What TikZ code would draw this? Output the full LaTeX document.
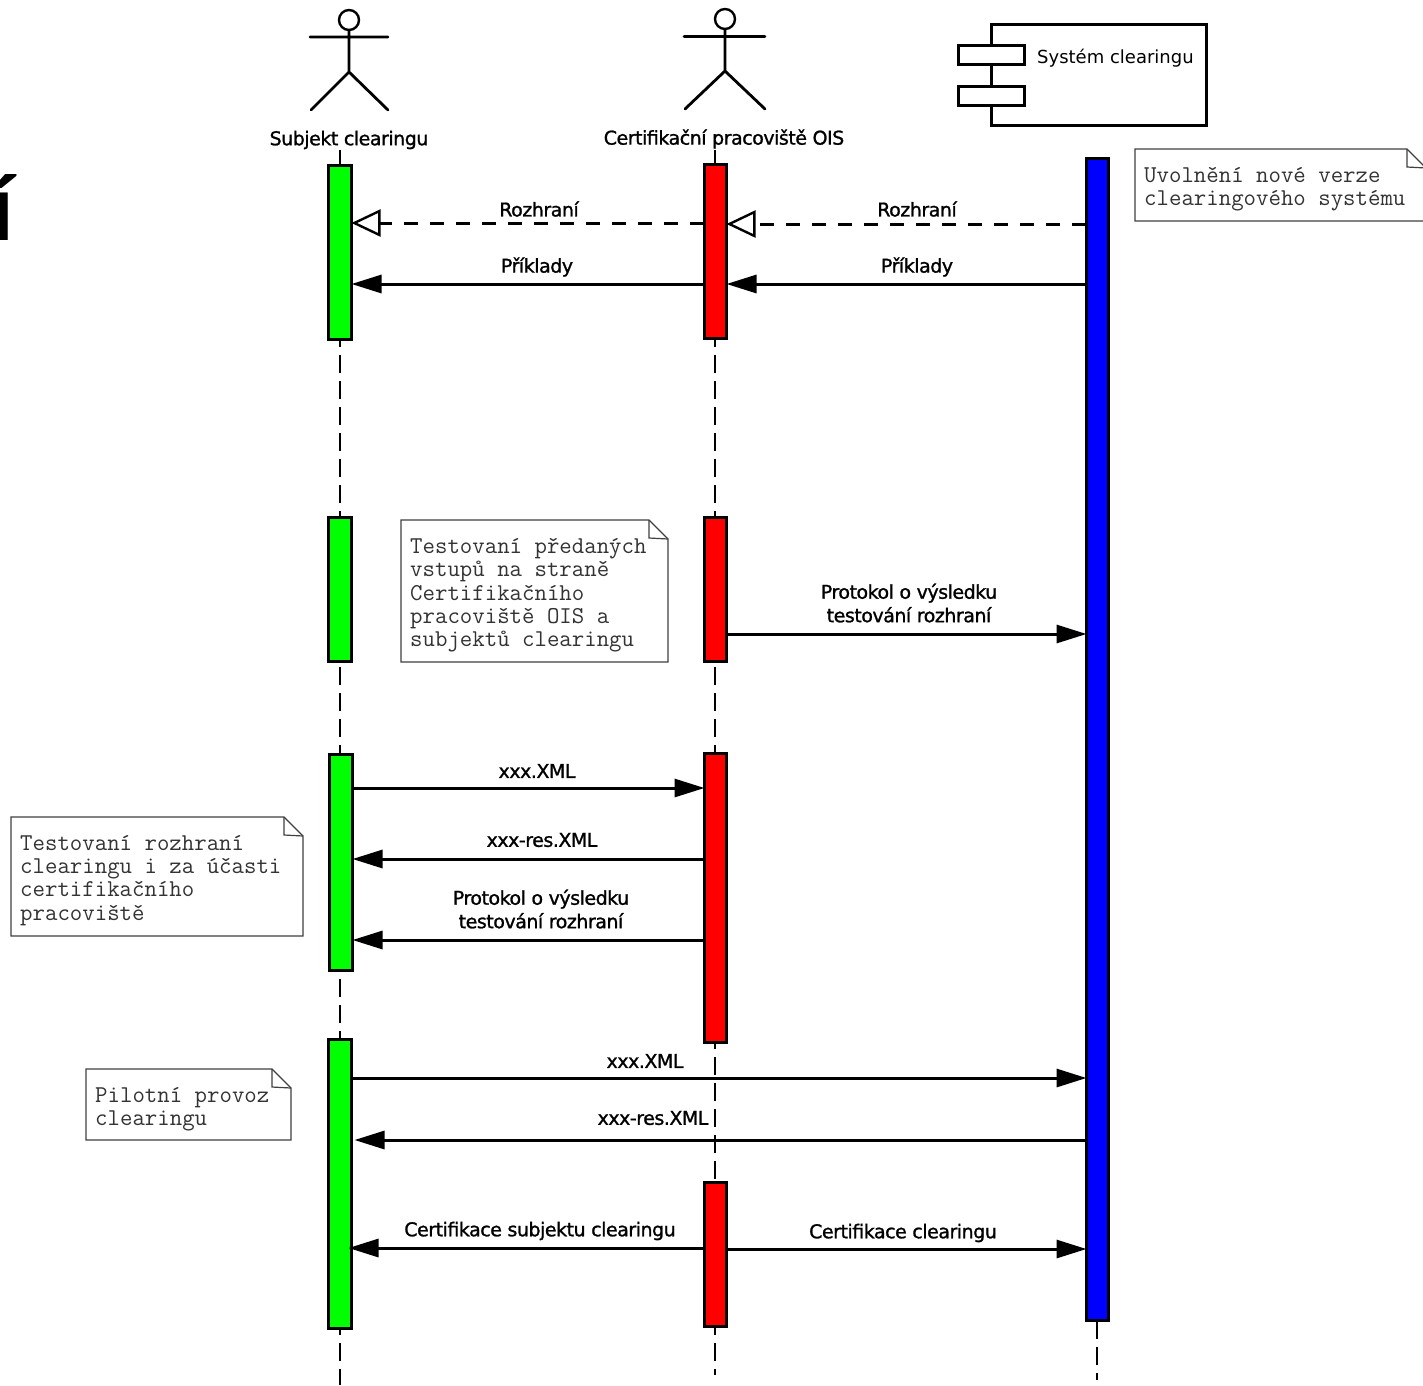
\documentclass[tikz,border=0pt]{standalone}
\usepackage{fontspec}
\usetikzlibrary{arrows.meta,calc}
\setmainfont{DejaVu Sans}
\newfontfamily\lblfont[FakeBold=1.2,LetterSpace=-2.5]{DejaVu Sans}
\newfontfamily\bigfont{Liberation Sans}[BoldFont={Liberation Sans Bold}]
\tikzset{
  x=1pt,y=-1pt,
  bar/.style={draw=black,line width=3pt,inner sep=0pt},
  life/.style={line width=2pt,dash pattern=on 18pt off 8pt},
  msg/.style={line width=3pt,-{Triangle[length=30pt,width=18pt,fill=black]}},
  ret/.style={line width=3pt,dash pattern=on 14pt off 12pt,-{Triangle[open,length=29pt,width=27pt,fill=white,line width=2.4pt,sep=0pt]}},
  lbl/.style={font=\fontsize{19}{23.5}\selectfont\lblfont,align=center,inner sep=0pt,text=black},
  notetxt/.style={font=\fontsize{24.15}{23.3}\selectfont\ttfamily,align=left,anchor=north west,inner sep=0pt,text=black!80},
  notebox/.style={draw=black!75,line width=1.2pt,fill=white},
  fig/.style={line width=2.8pt,line cap=round},
  comp/.style={draw=black,line width=3pt,fill=white,rectangle,inner sep=0pt},
}
\newcommand{\mkbar}[6]{\node[bar,fill=#2,minimum width=#4pt-#3pt-2pt,minimum height=#6pt-#5pt-1pt,outer sep=0.5pt] (#1) at ({(#3+#4)/2},{(#5+#6)/2}) {};}
\newcommand{\mknote}[6]{%
  \draw[notebox] (#2,#4) -- (#3-19,#4) -- (#3,#4+19) -- (#3,#5) -- (#2,#5) -- cycle;
  \draw[notebox,fill=none] (#3-19,#4) -- (#3-19,#4+18) -- (#3,#4+19);
  \node[notetxt] (#1) at (#2+9,#4+18) {#6};}
\begin{document}
\begin{tikzpicture}
\useasboundingbox (0,0) rectangle (1423,1385);
% lifelines
\coordinate (l1top) at (340,147);
\coordinate (l1bot) at (340,1385);
\coordinate (l2top) at (715,147);
\coordinate (l2bot) at (715,1375);
\coordinate (l3bot) at (1097,1380);
\draw[life] (l1top) -- (l1bot);
\draw[life] (l2top) -- (l2bot);
% big cut-off letter
\begin{scope}
\clip (0,0) rectangle (1423,1385);
\node[inner sep=0pt,anchor=base east,font=\fontsize{90}{90}\selectfont\bigfont\bfseries] (cut) at (15,240) {í};
\end{scope}
% bars
\mkbar{g1}{green}{327}{352}{165}{340}
\mkbar{r1}{red}{703}{727}{164}{339}
\mkbar{b1}{blue}{1085}{1109}{158}{1321}
\mkbar{g2}{green}{327}{352}{517}{662}
\mkbar{r2}{red}{703}{727}{517}{662}
\mkbar{g3}{green}{328}{353}{754}{971}
\mkbar{r3}{red}{703}{727}{753}{1043}
\mkbar{g4}{green}{327}{352}{1039}{1329}
\mkbar{r4}{red}{703}{727}{1182}{1327}
\draw[life] (b1.south) -- (l3bot);
% actors
\node[circle,draw=black,line width=2.4pt,minimum size=20pt,inner sep=0pt] (h1) at (349,20) {};
\node[circle,draw=black,line width=2.4pt,minimum size=20pt,inner sep=0pt] (h2) at (725,19) {};
\draw[fig] (h1.south) -- (349,72) (310,37) -- (388,37) (311,110) -- (349,72) -- (388,110);
\draw[fig] (h2.south) -- (725,71) (684,36.5) -- (765,36.5) (685,109) -- (725,71) -- (765,109);
\node[lbl,fill=white,inner ysep=1pt] (a1) at (349,140) {Subjekt clearingu};
\node[lbl,fill=white,inner ysep=1pt] (a2) at (724,139) {Certifikační pracoviště OIS};
% component
\node[comp,minimum width=215pt,minimum height=101pt] (c0) at (1099,75) {};
\node[comp,minimum width=66pt,minimum height=19pt] (c1) at (991.5,54.5) {};
\node[comp,minimum width=66pt,minimum height=19pt] (c2) at (991.5,96) {};
\node[inner sep=0pt,font=\fontsize{18}{22}\selectfont,anchor=west] (c3) at (1037,58) {Systém clearingu};
% notes
\mknote{n1}{1135}{1426}{149}{221}{Uvolnění nové verze\\clearingového systému}
\mknote{n2}{401}{668}{520}{662}{Testovaní předaných\\vstupů na straně\\Certifikačního\\pracoviště OIS a\\subjektů clearingu}
\mknote{n3}{11}{303}{817}{936}{Testovaní rozhraní\\clearingu i za účasti\\certifikačního\\pracoviště}
\mknote{n4}{86}{291}{1069}{1140}{Pilotní provoz\\clearingu}
% messages
\coordinate (y1) at (0,223);
\coordinate (y1b) at (0,224);
\coordinate (y2) at (0,284);
\coordinate (y3) at (0,634);
\coordinate (y4) at (0,788);
\coordinate (y5) at (0,859);
\coordinate (y6) at (0,940);
\coordinate (y7) at (0,1078);
\coordinate (y8) at (0,1140);
\coordinate (y9) at (0,1248);
\coordinate (y10) at (0,1249);
\draw[ret] (r1.west |- y1) -- (g1.east |- y1);
\draw[ret] (b1.west |- y1b) -- (r1.east |- y1b);
\draw[msg] (r1.west |- y2) -- (g1.east |- y2);
\draw[msg] (b1.west |- y2) -- (r1.east |- y2);
\draw[msg] (r2.east |- y3) -- ([xshift=1pt]b1.west |- y3);
\draw[msg] (g3.east |- y4) -- ([xshift=1pt]r3.west |- y4);
\draw[msg] (r3.west |- y5) -- (g3.east |- y5);
\draw[msg] (r3.west |- y6) -- (g3.east |- y6);
\draw[msg] (g4.east |- y7) -- ([xshift=1pt]b1.west |- y7);
\draw[msg] (b1.west |- y8) -- ([xshift=3pt]g4.east |- y8);
\draw[msg] (r4.west |- y9) -- ([xshift=-3pt]g4.east |- y9);
\draw[msg] (r4.east |- y10) -- ([xshift=1pt]b1.west |- y10);
% labels
\node[lbl] (t1) at (539,209) {Rozhraní};
\node[lbl] (t2) at (917,209) {Rozhraní};
\node[lbl] (t3) at (537,267) {Příklady};
\node[lbl] (t4) at (917,267) {Příklady};
\node[lbl] (t5) at (909,603) {Protokol o výsledku\\testování rozhraní};
\node[lbl] (t6) at (537,771) {xxx.XML};
\node[lbl] (t7) at (542,840) {xxx-res.XML};
\node[lbl] (t8) at (541,909) {Protokol o výsledku\\testování rozhraní};
\node[lbl] (t9) at (645,1061) {xxx.XML};
\node[lbl] (t10) at (653,1118) {xxx-res.XML};
\node[lbl] (t11) at (540,1231) {Certifikace subjektu clearingu};
\node[lbl] (t12) at (903,1233) {Certifikace clearingu};
\end{tikzpicture}
\end{document}
